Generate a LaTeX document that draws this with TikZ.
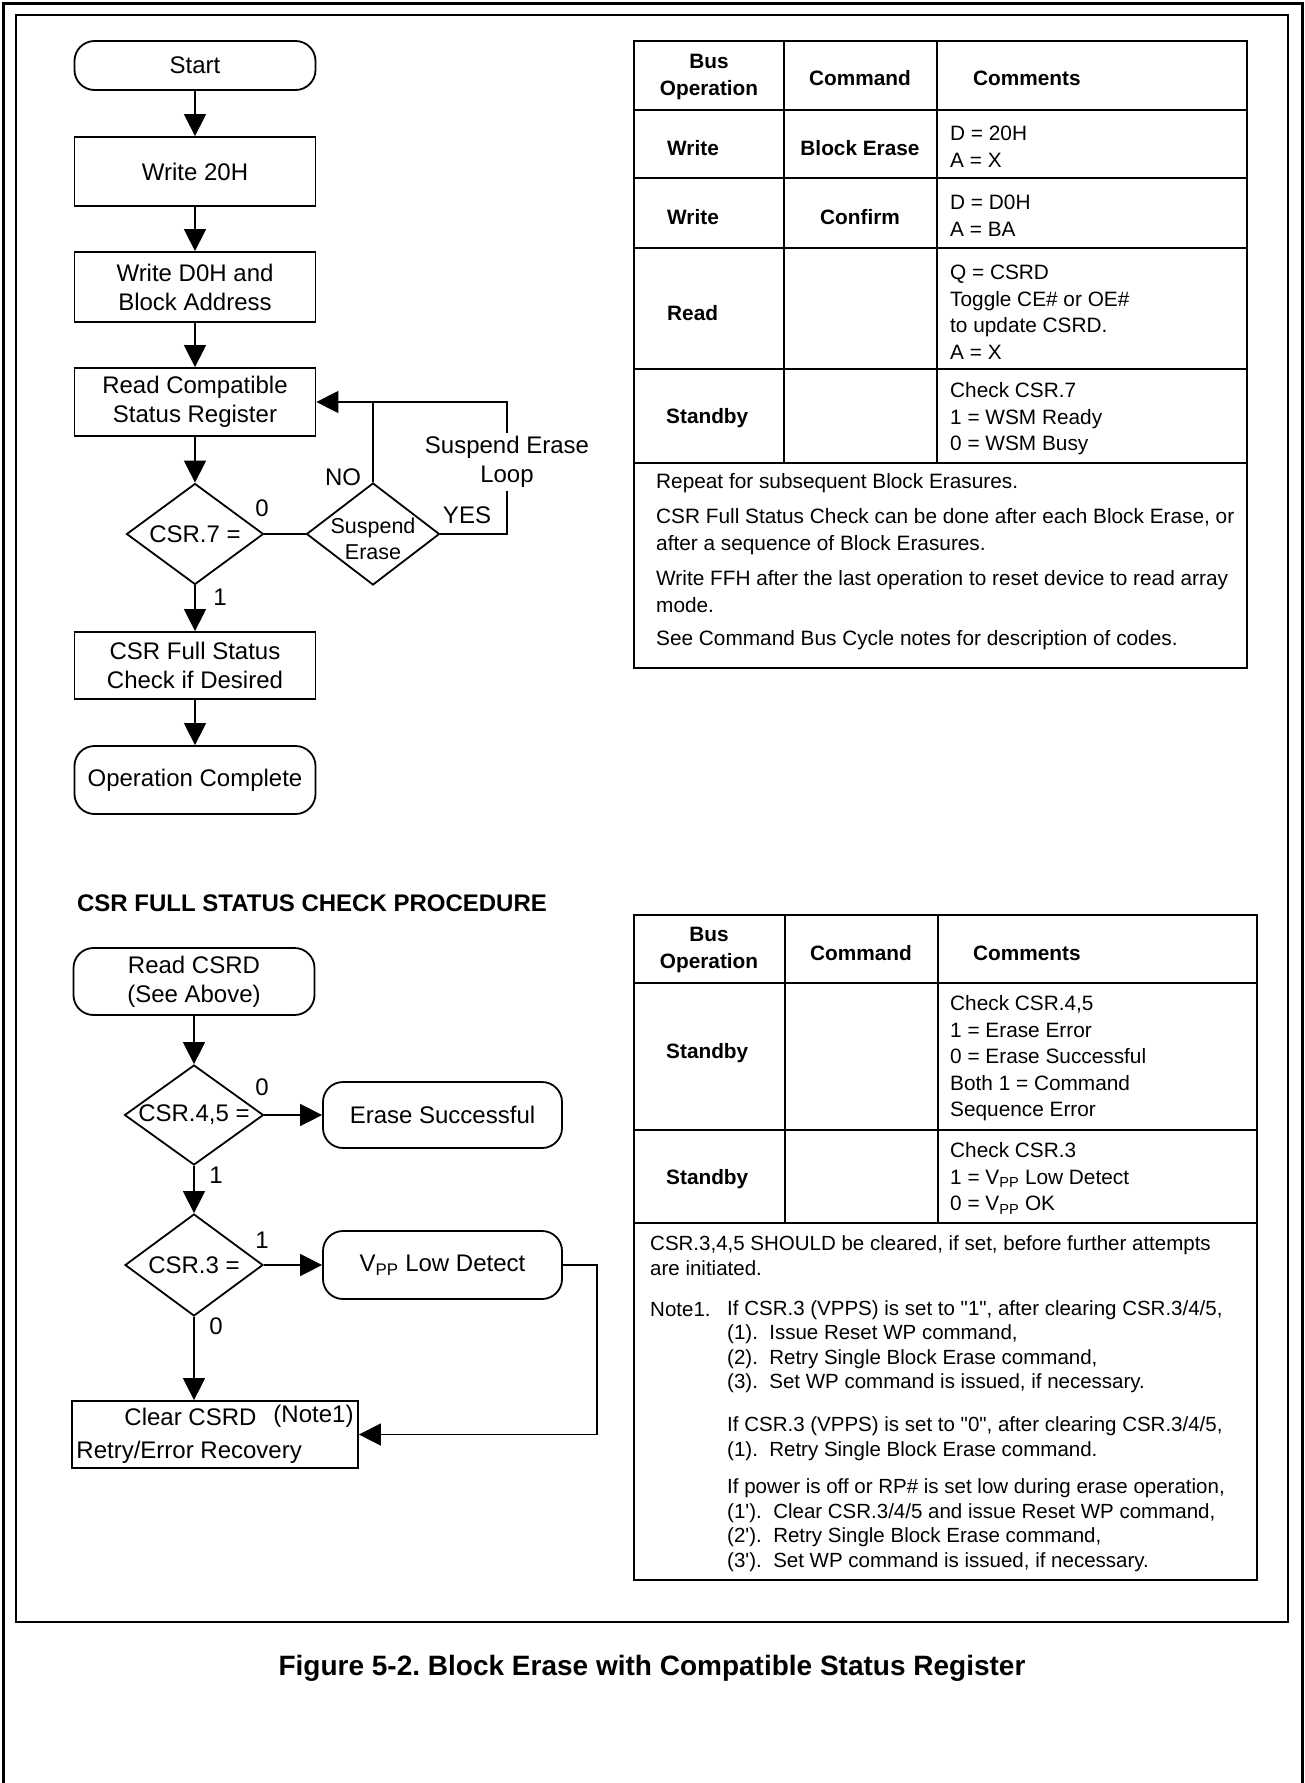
\documentclass[tikz,border=0pt]{standalone}
\usepackage{fontspec}
\setmainfont{Liberation Sans}
\newfontfamily\plainfont{Liberation Sans}
\usetikzlibrary{arrows.meta,shapes.geometric}

\newcommand{\flowfont}{\fontsize{24}{29}\selectfont}
\newcommand{\tabfont}{\fontsize{20.8}{26.5}\selectfont}
\newcommand{\notefont}{\fontsize{20.5}{24.5}\selectfont}
\newcommand{\dq}{{\plainfont"}}
\frenchspacing

\begin{document}
\begin{tikzpicture}[x=1pt, y=-1pt,
    flow/.style={line width=1.5pt, -{Triangle[width=22pt, length=22pt]}},
    wire/.style={line width=1.5pt},
    term/.style={draw, line width=1.8pt, rounded corners=20pt, minimum width=241pt, minimum height=67pt, align=center, font=\flowfont},
    procbox/.style={draw, line width=1.8pt, minimum width=241pt, minimum height=68pt, align=center, font=\flowfont},
    decision/.style={draw, diamond, line width=1.8pt, inner sep=0pt, minimum width=138pt, minimum height=101pt, font=\flowfont},
    lbl/.style={font=\flowfont, inner sep=0pt},
    tbl/.style={line width=2.2pt},
    cell/.style={font=\tabfont, align=left, inner sep=0pt, anchor=west},
    head/.style={font=\tabfont\bfseries, align=center, inner sep=0pt},
    note/.style={font=\notefont, align=left, inner sep=0pt, anchor=west}]
    \useasboundingbox (0,0) rectangle (1305,1783);

    % frames
    \draw[line width=3pt] (3,1783) -- (3,3) -- (1302,3) -- (1302,1783);
    \draw[line width=2pt] (16,15) rectangle (1288,1622);

    % block erase flow
    \node[term, minimum height=49pt] (start) at (195,65.5) {Start};
    \node[procbox, minimum height=69pt] (w20) at (195,171.5) {Write 20H};
    \node[procbox, minimum height=70pt] (wd0) at (195,287) {Write D0H and\\Block Address};
    \node[procbox] (rcsr) at (195,402) {Read Compatible\\Status Register};
    \node[decision, minimum width=137pt] (csr7) at (195,534) {\makebox[0pt]{CSR.7 =}};
    \node[decision, minimum width=133pt, minimum height=102pt] (susp) at (373,534) {\makebox[0pt]{\smash{\raisebox{-12pt}{\fontsize{21.5}{26}\selectfont\begin{tabular}{@{}c@{}}Suspend\\Erase\end{tabular}}}}};
    \node[procbox, minimum height=67pt] (full) at (195,665.5) {CSR Full Status\\Check if Desired};
    \node[term, minimum height=68pt] (opc) at (195,780) {Operation Complete};
    \coordinate (loopt) at (507,402);
    \coordinate (loopb) at (507,534);

    \draw[flow] (start) -- (w20);
    \draw[flow] (w20) -- (wd0);
    \draw[flow] (wd0) -- (rcsr);
    \draw[flow] (rcsr) -- (csr7);
    \draw[flow] (csr7) -- (full);
    \draw[flow] (full) -- (opc);
    \draw[wire] (csr7) -- (susp);
    \draw[wire] (susp) -- (susp |- rcsr);
    \draw[flow] (susp.east) -- (loopb) -- (loopt) -- (rcsr.east);

    \node[lbl] (l0) at (262,508) {0};
    \node[lbl] (lno) at (343,477) {NO};
    \node[lbl] (lyes) at (467,515) {YES};
    \node[lbl, fill=white, inner sep=3pt, align=center] (lloop) at (507,462) {Suspend Erase\\Loop};
    \node[lbl] (l1) at (220,597) {1};

    % full status check flow
    \node[font=\flowfont\bfseries, inner sep=0pt] (proc) at (312,903) {CSR FULL STATUS CHECK PROCEDURE};
    \node[term] (rd) at (194,981.5) {Read CSRD\\(See Above)};
    \node[decision, minimum width=139pt, minimum height=100pt] (c45) at (194,1115) {\makebox[0pt]{CSR.4,5 =}};
    \node[term, minimum width=239pt, minimum height=66pt] (esucc) at (442.5,1115) {Erase Successful};
    \node[decision, minimum height=102pt] (c3) at (194,1265) {\makebox[0pt]{CSR.3 =}};
    \node[term, minimum width=239pt, minimum height=68pt] (vpp) at (442.5,1265) {V\textsubscript{PP} Low Detect};
    \node[procbox, minimum width=286pt, minimum height=67pt, align=left, inner sep=4pt] (clr) at (215,1434.5) {\hspace*{48pt}Clear CSRD\hspace{17pt}\raisebox{3pt}{(Note1)}\\[4pt]Retry/Error Recovery};
    \coordinate (vppt) at (597,1265);
    \coordinate (vppb) at (597,1434.5);

    \draw[flow] (rd) -- (c45);
    \draw[flow] (c45) -- (esucc);
    \draw[flow] (c45) -- (c3);
    \draw[flow] (c3) -- (vpp);
    \draw[flow] (c3) -- (c3 |- clr.north);
    \draw[flow] (vpp.east) -- (vppt) -- (vppb) -- (clr.east);

    \node[lbl] (m0) at (262,1087) {0};
    \node[lbl] (m1) at (216,1175) {1};
    \node[lbl] (n1) at (262,1240) {1};
    \node[lbl] (n0) at (216,1326) {0};

    % upper table
    \draw[tbl] (634,41) rectangle (1247,668);
    \draw[tbl] (634,110) -- (1247,110) (634,178) -- (1247,178) (634,248) -- (1247,248)
        (634,369) -- (1247,369) (634,463) -- (1247,463);
    \draw[tbl] (784,41) -- (784,463) (937,41) -- (937,463);

    \node[head] (ahbus) at (709,77) {Bus\\Operation};
    \node[head] (ahcmd) at (860,78) {Command};
    \node[head, anchor=west] (ahcom) at (973,78) {Comments};
    \node[cell, font=\tabfont\bfseries] (aop1) at (667,148) {Write};
    \node[head] (acmd1) at (860,148) {Block Erase};
    \node[cell] (acom1) at (950,146.5) {D = 20H\\A = X};
    \node[cell, font=\tabfont\bfseries] (aop2) at (667,217) {Write};
    \node[head] (acmd2) at (860,217) {Confirm};
    \node[cell] (acom2) at (950,215.5) {D = D0H\\A = BA};
    \node[cell, font=\tabfont\bfseries] (aop3) at (667,313) {Read};
    \node[cell] (acom3) at (950,312) {Q = CSRD\\Toggle CE\# or OE\#\\to update CSRD.\\A = X};
    \node[cell, font=\tabfont\bfseries] (aop4) at (666,418) {Standby};
    \node[cell] (acom4) at (950,419) {Check CSR.7\\1 = WSM Ready\\0 = WSM Busy};
    \node[cell] (anote1) at (656,483) {Repeat for subsequent Block Erasures.};
    \node[cell] (anote2) at (656,531.5) {CSR Full Status Check can be done after each Block Erase, or\\after a sequence of Block Erasures.};
    \node[cell] (anote3) at (656,591.5) {Write FFH after the last operation to reset device to read array\\mode.};
    \node[cell] (anote4) at (656,640) {See Command Bus Cycle notes for description of codes.};

    % lower table
    \draw[tbl] (634,915) rectangle (1257,1580);
    \draw[tbl] (634,983) -- (1257,983) (634,1130) -- (1257,1130) (634,1223) -- (1257,1223);
    \draw[tbl] (785,915) -- (785,1223) (938,915) -- (938,1223);

    \node[head] (bhbus) at (709,950) {Bus\\Operation};
    \node[head] (bhcmd) at (861,953) {Command};
    \node[head, anchor=west] (bhcom) at (973,953) {Comments};
    \node[cell, font=\tabfont\bfseries] (bop1) at (666,1053) {Standby};
    \node[cell] (bcom1) at (950,1058.5) {Check CSR.4,5\\1 = Erase Error\\0 = Erase Successful\\Both 1 = Command\\Sequence Error};
    \node[cell, font=\tabfont\bfseries] (bop2) at (666,1179) {Standby};
    \node[cell] (bcom2) at (950,1178.5) {Check CSR.3\\1 = V\textsubscript{PP} Low Detect\\0 = V\textsubscript{PP} OK};
    \node[note] (bnote1) at (650,1255.5) {CSR.3,4,5 SHOULD be cleared, if set, before further attempts\\are initiated.};
    \node[note] (bnote2) at (650,1310) {Note1.};
    \node[note] (bnote3) at (727,1346.5) {If CSR.3 (VPPS) is set to \dq1\dq, after clearing CSR.3/4/5,\\(1).\ \ Issue Reset WP command,\\(2).\ \ Retry Single Block Erase command,\\(3).\ \ Set WP command is issued, if necessary.};
    \node[note] (bnote4) at (727,1438.5) {If CSR.3 (VPPS) is set to \dq0\dq, after clearing CSR.3/4/5,\\(1).\ \ Retry Single Block Erase command.};
    \node[note] (bnote5) at (727,1525) {If power is off or RP\# is set low during erase operation,\\(1\textquotesingle).\ \ Clear CSR.3/4/5 and issue Reset WP command,\\(2\textquotesingle).\ \ Retry Single Block Erase command,\\(3\textquotesingle).\ \ Set WP command is issued, if necessary.};

    % caption
    \node[font=\fontsize{28}{32}\selectfont\bfseries, inner sep=0pt] (cap) at (652,1668) {Figure 5-2. Block Erase with Compatible Status Register};
\end{tikzpicture}
\end{document}
